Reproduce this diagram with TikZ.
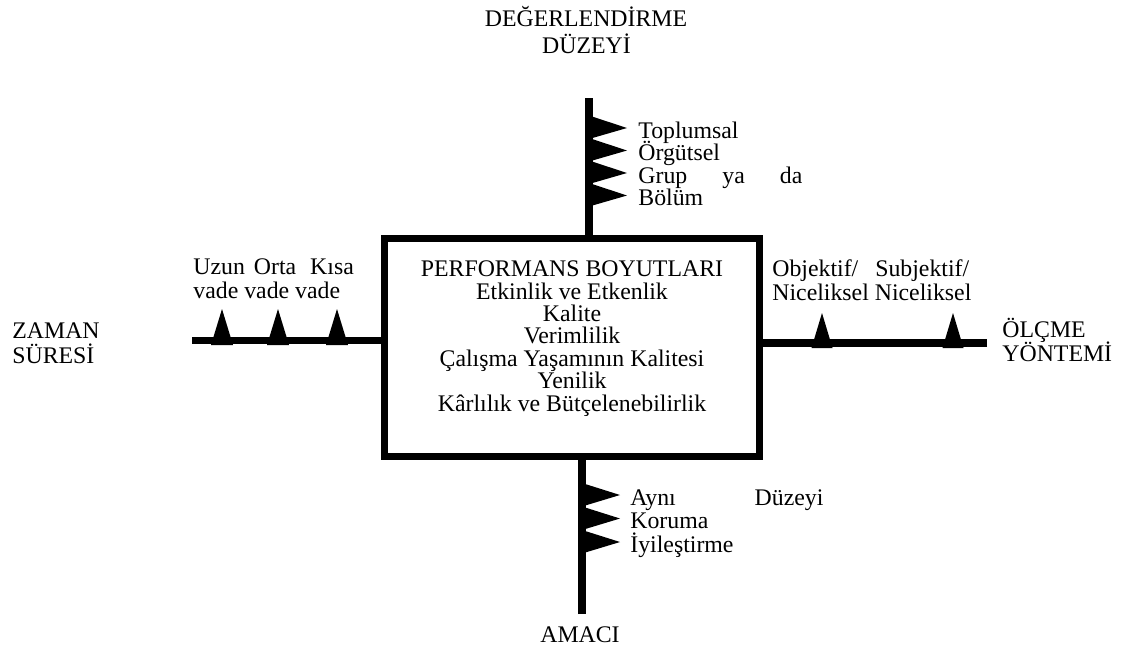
\documentclass[tikz,border=0pt]{standalone}
\usepackage{fontspec}
\setmainfont{Liberation Serif}
\begin{document}
\lineskiplimit=-100pt
\begin{tikzpicture}[x=0.5pt,y=-0.5pt,
  lbl/.style={inner sep=0pt, font=\fontsize{11.9}{11.2}\selectfont},
  axis/.style={line width=4pt},
  thinaxis/.style={line width=3.5pt},
  flag/.style={fill=black, draw=none},
  panel/.style={draw, line width=3.5pt, minimum width=187.5pt, minimum height=109pt, inner sep=0pt}]
\useasboundingbox (0,0) rectangle (1128,649);

% central panel
\node[panel] (box) at (572,347) {};
\node[lbl, align=center] (dims) at (572,338.5) {PERFORMANS BOYUTLARI\\Etkinlik ve Etkenlik\\Kalite\\Verimlilik\\Çalışma Yaşamının Kalitesi\\Yenilik\\Kârlılık ve Bütçelenebilirlik};

% axis end points
\coordinate (topend) at (589,98);
\coordinate (botend) at (582,614);
\coordinate (leftend) at (192,340);
\coordinate (rightend) at (987,342.5);

% axes
\draw[axis] (topend) -- (topend |- box.north);
\draw[axis] (botend) -- (botend |- box.south);
\draw[thinaxis] (leftend) -- (leftend -| box.west);
\draw[axis] (rightend) -- (rightend -| box.east);

% flags on the upper axis
\foreach \t in {128,150.5,173,195.5}
  \fill[flag] (589,\t-12.5) -- (627,\t) -- (589,\t+11) -- cycle;
% flags on the lower axis
\foreach \t in {495,518.5,542}
  \fill[flag] (582,\t-12) -- (620,\t) -- (582,\t+11.5) -- cycle;
% markers on the left axis
\foreach \c in {222,278,337}
  \fill[flag] (\c-11,345) -- (\c,309) -- (\c+11,345) -- cycle;
% markers on the right axis
\foreach \c in {822,953}
  \fill[flag] (\c-10.5,348) -- (\c,313) -- (\c+10.5,348) -- cycle;

% upper axis labels
\node[lbl, anchor=base] (evalA) at (586,26) {DEĞERLENDİRME};
\node[lbl, anchor=base] (evalB) at (586.5,53) {DÜZEYİ};
\node[lbl, anchor=base west] (lvl1) at (638,138) {Toplumsal};
\node[lbl, anchor=base west] (lvl2) at (638,160.5) {Örgütsel};
\node[lbl, anchor=base west] (lvl3) at (638,183) {\makebox[82pt][s]{Grup ya da}};
\node[lbl, anchor=base west] (lvl4) at (638,205.5) {Bölüm};

% left axis labels
\node[lbl, anchor=base west] (timeA) at (12,338) {ZAMAN};
\node[lbl, anchor=base west] (timeB) at (12,363) {SÜRESİ};
\node[lbl, anchor=base west] (termA) at (193,274) {Uzun\hspace{4.5pt}Orta\hspace{7pt}Kısa};
\node[lbl, anchor=base west] (termB) at (193,298) {vade vade vade};

% right axis labels
\node[lbl, anchor=base west] (methA) at (772,276) {Objektif/\hspace{8.5pt}Subjektif/};
\node[lbl, anchor=base west] (methB) at (772,300) {Niceliksel Niceliksel};
\node[lbl, anchor=base west] (measA) at (1002,337) {ÖLÇME};
\node[lbl, anchor=base west] (measB) at (1002,361) {YÖNTEMİ};

% lower axis labels
\node[lbl, anchor=base west] (aim1) at (630,505) {\makebox[96.5pt][s]{Aynı Düzeyi}};
\node[lbl, anchor=base west] (aim2) at (630,528.5) {Koruma};
\node[lbl, anchor=base west] (aim3) at (630,552) {İyileştirme};
\node[lbl, anchor=base] (aim) at (580,642) {AMACI};
\end{tikzpicture}
\end{document}
